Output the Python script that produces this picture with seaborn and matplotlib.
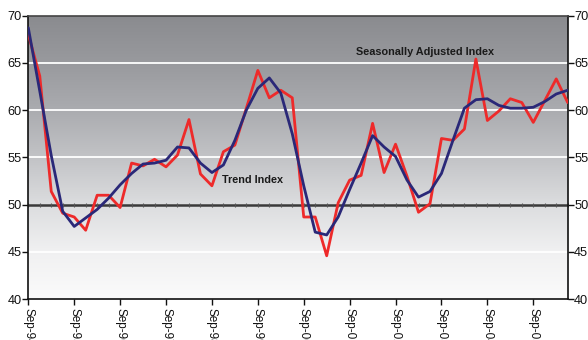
import numpy as np
import pandas as pd
import matplotlib
matplotlib.use("Agg")
import matplotlib.pyplot as plt
from matplotlib.colors import LinearSegmentedColormap
import seaborn as sns

# Quarterly index values, Sep-94 through Jun-06
seasonally_adjusted = [
    68.0, 63.6, 51.4, 49.1, 48.7, 47.3, 51.0, 51.0, 49.7, 54.4, 54.1, 54.8,
    54.0, 55.25, 59.0, 53.25, 52.0, 55.6, 56.3, 60.2, 64.2, 61.3, 62.1, 61.3,
    48.7, 48.7, 44.6, 50.2, 52.6, 53.1, 58.6, 53.4, 56.4, 53.0, 49.2, 50.1,
    57.0, 56.8, 58.0, 65.4, 58.9, 59.9, 61.2, 60.8, 58.7, 61.0, 63.3, 60.8,
]
trend = [
    68.7, 62.0, 55.2, 49.3, 47.7, 48.6, 49.5, 50.7, 52.1, 53.3, 54.3, 54.4,
    54.7, 56.1, 56.0, 54.4, 53.4, 54.2, 56.8, 60.0, 62.3, 63.4, 61.8, 57.5,
    52.0, 47.1, 46.8, 48.7, 51.6, 54.4, 57.3, 56.1, 55.1, 52.6, 50.8, 51.4,
    53.3, 56.8, 60.2, 61.1, 61.2, 60.5, 60.2, 60.2, 60.3, 60.9, 61.7, 62.1,
]
year_labels = ["Sep-94", "Sep-95", "Sep-96", "Sep-97", "Sep-98", "Sep-99",
               "Sep-00", "Sep-01", "Sep-02", "Sep-03", "Sep-04", "Sep-05"]
y_ticks = [40, 45, 50, 55, 60, 65, 70]

quarter = np.arange(len(trend))
df = pd.DataFrame({"quarter": quarter, "sa": seasonally_adjusted, "trend": trend})

sns.set_theme(style="white")
plt.rcParams["font.family"] = ["Liberation Sans", "DejaVu Sans"]

fig = plt.figure(figsize=(5.88, 3.40), dpi=100)
ax = fig.add_axes([28.3 / 588, 1 - 299.3 / 340, (567.7 - 28.3) / 588, (299.3 - 15.5) / 340])

x0, x1 = 0, len(trend) - 1
ax.set_xlim(x0, x1)
ax.set_ylim(40, 70)

# vertical gray-to-white backdrop
bg = LinearSegmentedColormap.from_list(
    "bg",
    [(0.0, "#fbfbfb"), (0.17, "#f0f0f1"), (0.33, "#dcdddf"),
     (0.5, "#c2c3c6"), (0.67, "#aaabaf"), (0.83, "#999a9e"), (1.0, "#8a8b8f")])
grad = np.linspace(0, 1, 256).reshape(-1, 1)
ax.imshow(grad, cmap=bg, origin="lower", aspect="auto",
          extent=[x0, x1, 40, 70], zorder=0)

for y in [45, 55, 60, 65]:
    ax.axhline(y, color="white", lw=1.3, zorder=1)

# 50 reference line with quarterly tick marks
ax.axhline(50, color="#3a3a3a", lw=1.8, zorder=2)
ax.plot(quarter, np.full(len(quarter), 50.0), ls="none", marker="|",
        ms=3.5, mew=0.8, color="#555555", zorder=2)

sns.lineplot(data=df, x="quarter", y="sa", ax=ax, color="#ee2a2a",
             lw=2.0, zorder=3)
sns.lineplot(data=df, x="quarter", y="trend", ax=ax, color="#2a2878",
             lw=2.0, zorder=4)

ax.text(34.6, 66.1, "Seasonally Adjusted Index", fontsize=7.8,
        fontweight="bold", color="#1a1a1a", ha="center", va="center", zorder=5)
ax.text(19.5, 52.6, "Trend Index", fontsize=7.8,
        fontweight="bold", color="#1a1a1a", ha="center", va="center", zorder=5)

ax.set_xlabel("")
ax.set_ylabel("")
ax.set_xticks(np.arange(0, len(year_labels) * 4, 4))
ax.set_xticklabels(year_labels, rotation=-90, fontsize=8.5, va="top")
ax.set_yticks(y_ticks)
ax.set_yticklabels([str(v) for v in y_ticks], fontsize=9.2)
ax.tick_params(axis="both", direction="out", length=4, width=1,
               color="#111111", labelcolor="#111111")
ax.tick_params(axis="y", left=True, right=True, labelleft=True,
               labelright=True, pad=0.6)
ax.tick_params(axis="x", bottom=True, pad=2)
for s in ax.spines.values():
    s.set_visible(True)
    s.set_color("#111111")
    s.set_linewidth(1.2)
ax.spines["top"].set_color("#444444")

fig.savefig("out.png", dpi=100)
